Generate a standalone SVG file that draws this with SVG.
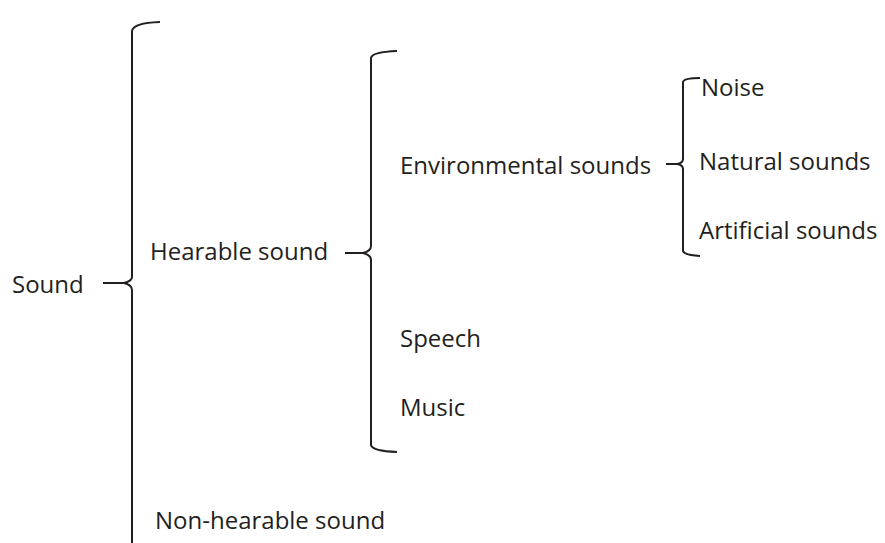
<svg xmlns="http://www.w3.org/2000/svg" width="885" height="543" viewBox="0 0 885 543">
<style>
.t{font-family:"Open Sans","Liberation Sans",sans-serif;font-size:24px;fill:#231f20}
.b{fill:none;stroke:#231f20;stroke-width:2;stroke-linecap:butt;stroke-linejoin:round}
</style>
<rect width="885" height="543" fill="#fff"/>
<g id="connectors">
<path class="b" d="M160,22 Q133,23 132,31 L132,277 Q132,281 124,283 L103,283 M124,283 Q132,285 132,290 L132,545"/>
<path class="b" d="M397,51 Q372,52 371,58 L371,246 Q371,251 363,253 L345,253 M363,253 Q371,255 371,260 L371,445 Q372,451 397,452"/>
<path class="b" d="M700,78 Q684,78 683,82 L683,159 Q683,163 677,164 L666,164 M677,164 Q683,165 683,169 L683,251 Q684,255 700,256"/>
</g>
<g id="sound"><text class="t" x="12" y="293">Sound</text></g>
<g id="hearable"><text class="t" x="150" y="260">Hearable sound</text></g>
<g id="nonhearable"><text class="t" x="155" y="529">Non-hearable sound</text></g>
<g id="environmental"><text class="t" x="400" y="174">Environmental sounds</text></g>
<g id="speech"><text class="t" x="400" y="347">Speech</text></g>
<g id="music"><text class="t" x="400" y="416">Music</text></g>
<g id="noise"><text class="t" x="701" y="96">Noise</text></g>
<g id="natural"><text class="t" x="699" y="170">Natural sounds</text></g>
<g id="artificial"><text class="t" x="699" y="239">Artificial sounds</text></g>
</svg>
